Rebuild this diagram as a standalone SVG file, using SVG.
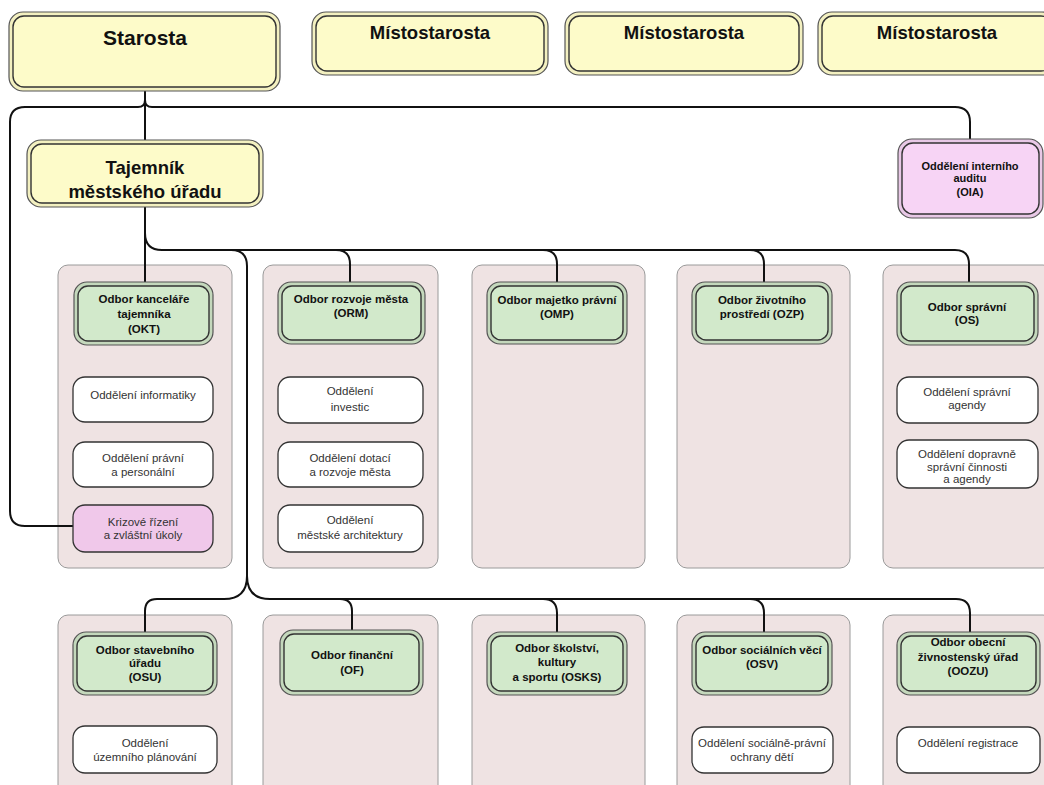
<svg xmlns="http://www.w3.org/2000/svg" width="1044" height="785" viewBox="0 0 1044 785">
<style>
text{font-family:"Liberation Sans",Arial,sans-serif;text-anchor:middle;fill:#111}
.b{font-weight:bold}
.t20{font-size:21px}
.t18{font-size:18.5px}
.t11{font-size:11.5px}
.t11o{font-size:11px}
.r{font-size:11.5px;fill:#333}
.panel{fill:#efe3e3;stroke:#9a9a9a;stroke-width:1}
.yo{fill:#f3f0c0;stroke:#555;stroke-width:1.2}
.yi{fill:#fdfbc9;stroke:#333;stroke-width:1.4}
.go{fill:#c4d8bc;stroke:#555;stroke-width:1.2}
.gi{fill:#d2e9cb;stroke:#333;stroke-width:1.4}
.po{fill:#e8c8e6;stroke:#555;stroke-width:1.2}
.pi{fill:#f7d4f5;stroke:#333;stroke-width:1.4}
.w{fill:#fff;stroke:#333;stroke-width:1.3}
.k{fill:#f0c8ea;stroke:#333;stroke-width:1.3}
.c{fill:none;stroke:#111;stroke-width:2}
</style>
<g id="panels">
<rect class="panel" x="58" y="265" width="174" height="303" rx="10"/>
<rect class="panel" x="263" y="265" width="175" height="303" rx="10"/>
<rect class="panel" x="472" y="265" width="173" height="303" rx="10"/>
<rect class="panel" x="677" y="265" width="173" height="303" rx="10"/>
<rect class="panel" x="883" y="265" width="170" height="303" rx="10"/>
<rect class="panel" x="58" y="615" width="174" height="190" rx="10"/>
<rect class="panel" x="263" y="615" width="175" height="190" rx="10"/>
<rect class="panel" x="472" y="615" width="173" height="190" rx="10"/>
<rect class="panel" x="677" y="615" width="173" height="190" rx="10"/>
<rect class="panel" x="883" y="615" width="170" height="190" rx="10"/>
</g>
<g id="connectors">
<path class="c" d="M145,91 V140"/>
<path class="c" d="M145,100 Q145,107 138,107 H25 Q10,107 10,122 V511 Q10,526 25,526 H73"/>
<path class="c" d="M145,100 Q145,107 152,107 H955 Q970,107 970,122 V139"/>
<path class="c" d="M145,207 V282"/>
<path class="c" d="M145,233 Q145,250 162,250 H955 Q969,250 969,264 V282"/>
<path class="c" d="M336,250 Q350,250 350,264 V282"/>
<path class="c" d="M543,250 Q557,250 557,264 V282"/>
<path class="c" d="M750,250 Q764,250 764,264 V282"/>
<path class="c" d="M231,250 Q247,250 247,266 V580"/>
<path class="c" d="M247,576 Q247,599 224,599 H157 Q145,599 145,611 V632"/>
<path class="c" d="M247,576 Q247,599 270,599 H956 Q970,599 970,613 V632"/>
<path class="c" d="M340,599 Q352,599 352,611 V630"/>
<path class="c" d="M543,599 Q557,599 557,613 V632"/>
<path class="c" d="M750,599 Q764,599 764,613 V632"/>
</g>
<g id="starosta">
<rect class="yo" x="9" y="12" width="271" height="79" rx="14"/>
<rect class="yi" x="13" y="16" width="263" height="71" rx="11"/>
<text class="b t20" x="145" y="45">Starosta</text>
</g>
<g id="mistostarosta1">
<rect class="yo" x="312" y="12" width="236" height="63" rx="14"/>
<rect class="yi" x="316" y="16" width="228" height="55" rx="11"/>
<text class="b t18" x="430" y="39">Místostarosta</text>
</g>
<g id="mistostarosta2">
<rect class="yo" x="565" y="12" width="238" height="63" rx="14"/>
<rect class="yi" x="569" y="16" width="230" height="55" rx="11"/>
<text class="b t18" x="684" y="39">Místostarosta</text>
</g>
<g id="mistostarosta3">
<rect class="yo" x="818" y="12" width="238" height="63" rx="14"/>
<rect class="yi" x="822" y="16" width="230" height="55" rx="11"/>
<text class="b t18" x="937" y="39">Místostarosta</text>
</g>
<g id="tajemnik">
<rect class="yo" x="27" y="140" width="236" height="67" rx="14"/>
<rect class="yi" x="31" y="144" width="228" height="59" rx="11"/>
<text class="b t18" x="145" y="174">Tajemník</text>
<text class="b t18" x="145" y="198">městského úřadu</text>
</g>
<g id="oia">
<rect class="po" x="898" y="139" width="145" height="79" rx="14"/>
<rect class="pi" x="902" y="143" width="137" height="71" rx="11"/>
<text class="b t11o" x="970" y="170">Oddělení interního</text>
<text class="b t11o" x="970" y="182">auditu</text>
<text class="b t11o" x="970" y="196">(OIA)</text>
</g>
<g id="okt">
<rect class="go" x="74" y="282" width="139" height="63" rx="13"/>
<rect class="gi" x="78" y="286" width="131" height="55" rx="10"/>
<text class="b t11" x="144" y="303">Odbor kanceláře</text>
<text class="b t11" x="144" y="318">tajemníka</text>
<text class="b t11" x="144" y="333">(OKT)</text>
</g>
<g id="okt-informatiky">
<rect class="w" x="73" y="377" width="140" height="45" rx="12"/>
<text class="r" x="143" y="399">Oddělení informatiky</text>
</g>
<g id="okt-pravni">
<rect class="w" x="73" y="442" width="140" height="45" rx="12"/>
<text class="r" x="143" y="462">Oddělení právní</text>
<text class="r" x="143" y="476">a personální</text>
</g>
<g id="okt-krizove">
<rect class="k" x="73" y="505" width="140" height="47" rx="12"/>
<text class="r" x="143" y="526">Krizové řízení</text>
<text class="r" x="143" y="539">a zvláštní úkoly</text>
</g>
<g id="orm">
<rect class="go" x="278" y="282" width="147" height="62" rx="13"/>
<rect class="gi" x="282" y="286" width="139" height="54" rx="10"/>
<text class="b t11" x="351" y="303">Odbor rozvoje města</text>
<text class="b t11" x="351" y="317">(ORM)</text>
</g>
<g id="orm-investic">
<rect class="w" x="278" y="377" width="145" height="46" rx="12"/>
<text class="r" x="350" y="395">Oddělení</text>
<text class="r" x="350" y="411">investic</text>
</g>
<g id="orm-dotaci">
<rect class="w" x="278" y="442" width="145" height="45" rx="12"/>
<text class="r" x="350" y="462">Oddělení dotací</text>
<text class="r" x="350" y="476">a rozvoje města</text>
</g>
<g id="orm-architektury">
<rect class="w" x="278" y="505" width="145" height="47" rx="12"/>
<text class="r" x="350" y="524">Oddělení</text>
<text class="r" x="350" y="539">městské architektury</text>
</g>
<g id="omp">
<rect class="go" x="487" y="282" width="140" height="62" rx="13"/>
<rect class="gi" x="491" y="286" width="132" height="54" rx="10"/>
<text class="b t11" x="557" y="304">Odbor majetko právní</text>
<text class="b t11" x="557" y="318">(OMP)</text>
</g>
<g id="ozp">
<rect class="go" x="692" y="282" width="140" height="62" rx="13"/>
<rect class="gi" x="696" y="286" width="132" height="54" rx="10"/>
<text class="b t11" x="762" y="304">Odbor životního</text>
<text class="b t11" x="762" y="318">prostředí (OZP)</text>
</g>
<g id="os">
<rect class="go" x="897" y="282" width="141" height="63" rx="13"/>
<rect class="gi" x="901" y="286" width="133" height="55" rx="10"/>
<text class="b t11" x="967" y="311">Odbor správní</text>
<text class="b t11" x="967" y="324">(OS)</text>
</g>
<g id="os-agendy">
<rect class="w" x="897" y="377" width="141" height="46" rx="12"/>
<text class="r" x="967" y="396">Oddělení správní</text>
<text class="r" x="967" y="409">agendy</text>
</g>
<g id="os-dopravne">
<rect class="w" x="897" y="440" width="141" height="48" rx="12"/>
<text class="r" x="967" y="458">Oddělení dopravně</text>
<text class="r" x="967" y="471">správní činnosti</text>
<text class="r" x="967" y="483">a agendy</text>
</g>
<g id="osu">
<rect class="go" x="73" y="632" width="144" height="63" rx="13"/>
<rect class="gi" x="77" y="636" width="136" height="55" rx="10"/>
<text class="b t11" x="145" y="654">Odbor stavebního</text>
<text class="b t11" x="145" y="667">úřadu</text>
<text class="b t11" x="145" y="681">(OSU)</text>
</g>
<g id="osu-uzemni">
<rect class="w" x="73" y="726" width="144" height="47" rx="12"/>
<text class="r" x="145" y="747">Oddělení</text>
<text class="r" x="145" y="761">územního plánování</text>
</g>
<g id="of">
<rect class="go" x="280" y="630" width="143" height="65" rx="13"/>
<rect class="gi" x="284" y="634" width="135" height="57" rx="10"/>
<text class="b t11" x="352" y="659">Odbor finanční</text>
<text class="b t11" x="352" y="674">(OF)</text>
</g>
<g id="osks">
<rect class="go" x="487" y="632" width="140" height="63" rx="13"/>
<rect class="gi" x="491" y="636" width="132" height="55" rx="10"/>
<text class="b t11" x="557" y="652">Odbor školství,</text>
<text class="b t11" x="557" y="666">kultury</text>
<text class="b t11" x="557" y="681">a sportu (OSKS)</text>
</g>
<g id="osv">
<rect class="go" x="692" y="632" width="140" height="63" rx="13"/>
<rect class="gi" x="696" y="636" width="132" height="55" rx="10"/>
<text class="b t11" x="762" y="654">Odbor sociálních věcí</text>
<text class="b t11" x="762" y="668">(OSV)</text>
</g>
<g id="osv-ochrany">
<rect class="w" x="692" y="727" width="141" height="46" rx="12"/>
<text class="r" x="762" y="747">Oddělení sociálně-právní</text>
<text class="r" x="762" y="761">ochrany dětí</text>
</g>
<g id="oozu">
<rect class="go" x="897" y="632" width="143" height="63" rx="13"/>
<rect class="gi" x="901" y="636" width="135" height="55" rx="10"/>
<text class="b t11" x="968" y="646">Odbor obecní</text>
<text class="b t11" x="968" y="661">živnostenský úřad</text>
<text class="b t11" x="968" y="675">(OOZU)</text>
</g>
<g id="oozu-registrace">
<rect class="w" x="897" y="727" width="143" height="46" rx="12"/>
<text class="r" x="968" y="747">Oddělení registrace</text>
</g>
</svg>
